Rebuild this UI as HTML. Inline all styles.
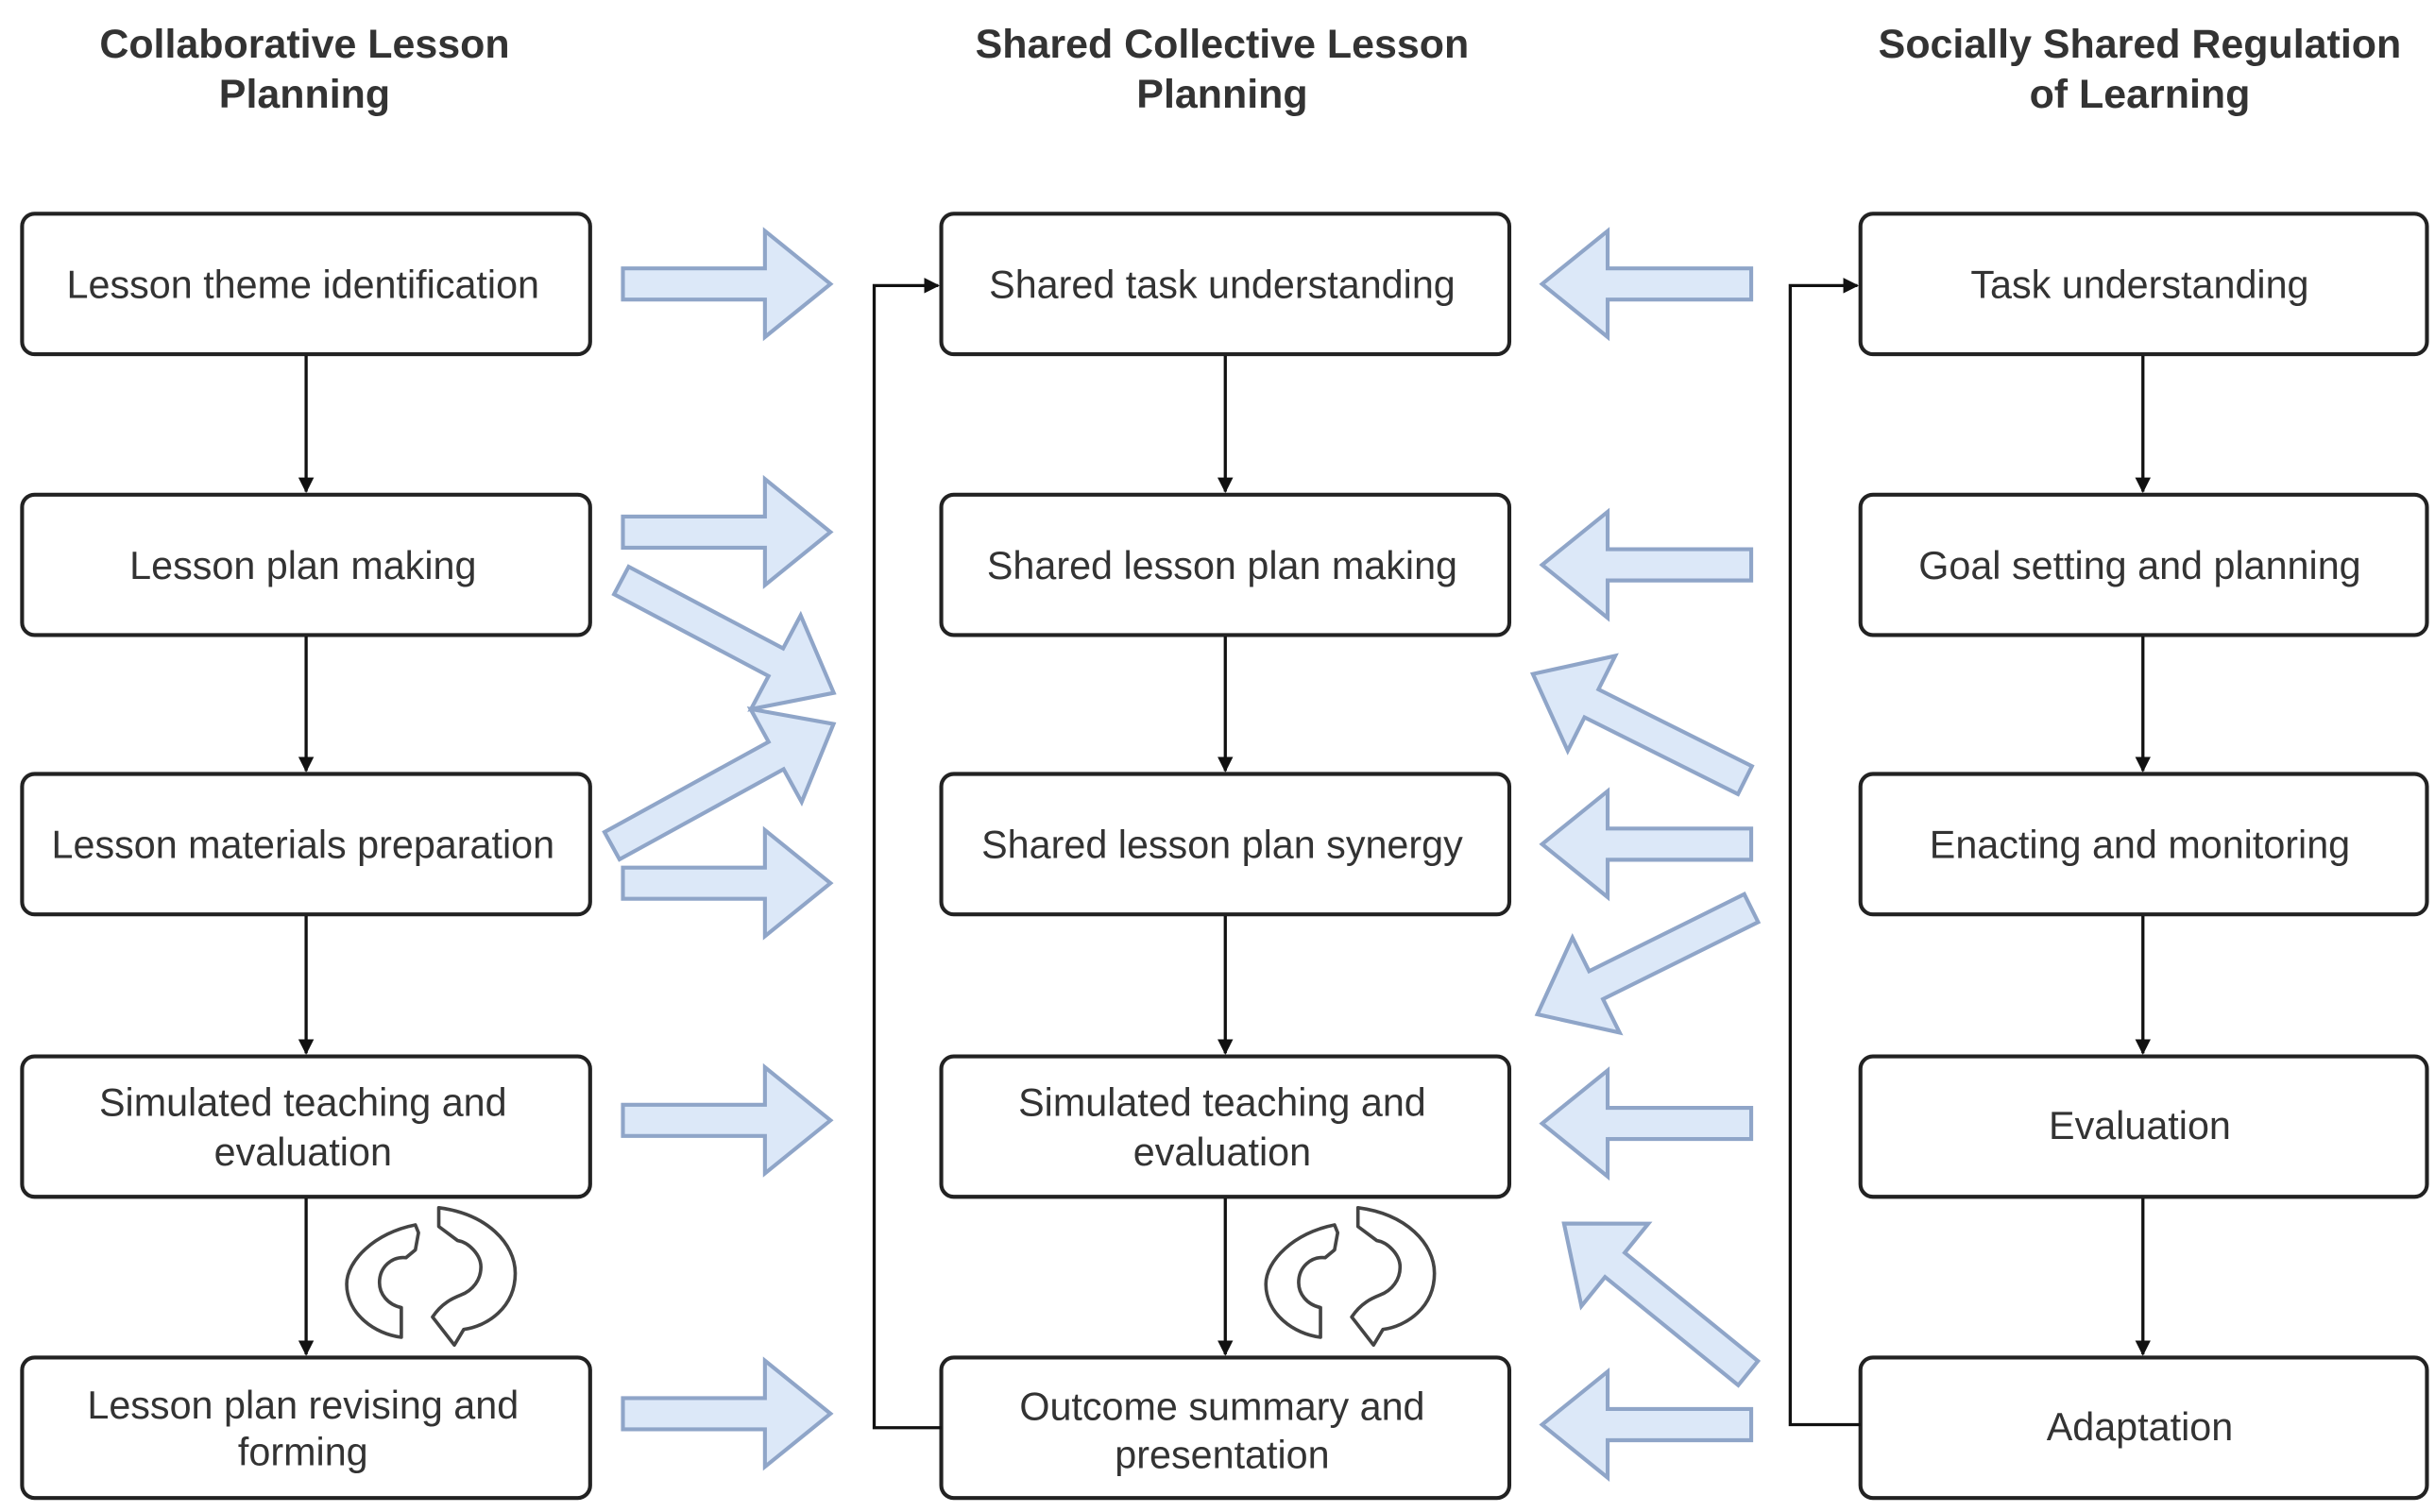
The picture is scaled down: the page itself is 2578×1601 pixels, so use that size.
<!DOCTYPE html>
<html><head><meta charset="utf-8"><style>
html,body{margin:0;padding:0;background:#fff}
svg{display:block}
text{font-family:"Liberation Sans",sans-serif;fill:#333}
</style></head><body>
<svg width="2578" height="1601" viewBox="0 0 1560 969" xmlns="http://www.w3.org/2000/svg">
<defs>
<marker id="ah" markerWidth="10" markerHeight="10" refX="9" refY="5" orient="auto" markerUnits="userSpaceOnUse"><path d="M0,0 L10,5 L0,10 Z" fill="#111"/></marker>
</defs>
<g font-size="26" text-anchor="middle" font-weight="bold">
<text x="195" y="37">Collaborative Lesson</text><text x="195" y="69">Planning</text>
<text x="783" y="37">Shared Collective Lesson</text><text x="783" y="69">Planning</text>
<text x="1371" y="37">Socially Shared Regulation</text><text x="1371" y="69">of Learning</text>
</g>
<g fill="#fff" stroke="#222" stroke-width="2.5">
<rect x="14" y="137" width="364" height="90" rx="8"/><rect x="14" y="317" width="364" height="90" rx="8"/><rect x="14" y="496" width="364" height="90" rx="8"/><rect x="14" y="677" width="364" height="90" rx="8"/><rect x="14" y="870" width="364" height="90" rx="8"/>
<rect x="603" y="137" width="364" height="90" rx="8"/><rect x="603" y="317" width="364" height="90" rx="8"/><rect x="603" y="496" width="364" height="90" rx="8"/><rect x="603" y="677" width="364" height="90" rx="8"/><rect x="603" y="870" width="364" height="90" rx="8"/>
<rect x="1192" y="137" width="363" height="90" rx="8"/><rect x="1192" y="317" width="363" height="90" rx="8"/><rect x="1192" y="496" width="363" height="90" rx="8"/><rect x="1192" y="677" width="363" height="90" rx="8"/><rect x="1192" y="870" width="363" height="90" rx="8"/>
</g>
<g font-size="25" text-anchor="middle">
<text x="194" y="191">Lesson theme identification</text>
<text x="194" y="371">Lesson plan making</text>
<text x="194" y="550">Lesson materials preparation</text>
<text x="194" y="715">Simulated teaching and</text><text x="194" y="747">evaluation</text>
<text x="194" y="909">Lesson plan revising and</text><text x="194" y="939">forming</text>
<text x="783" y="191">Shared task understanding</text>
<text x="783" y="371">Shared lesson plan making</text>
<text x="783" y="550">Shared lesson plan synergy</text>
<text x="783" y="715">Simulated teaching and</text><text x="783" y="747">evaluation</text>
<text x="783" y="910">Outcome summary and</text><text x="783" y="941">presentation</text>
<text x="1371" y="191">Task understanding</text>
<text x="1371" y="371">Goal setting and planning</text>
<text x="1371" y="550">Enacting and monitoring</text>
<text x="1371" y="730">Evaluation</text>
<text x="1371" y="923">Adaptation</text>
</g>
<g stroke="#111" stroke-width="2" fill="none" marker-end="url(#ah)">
<line x1="196" y1="228" x2="196" y2="315"/><line x1="196" y1="408" x2="196" y2="494"/><line x1="196" y1="587" x2="196" y2="675"/><line x1="196" y1="768" x2="196" y2="868"/>
<line x1="785" y1="228" x2="785" y2="315"/><line x1="785" y1="408" x2="785" y2="494"/><line x1="785" y1="587" x2="785" y2="675"/><line x1="785" y1="768" x2="785" y2="868"/>
<line x1="1373" y1="228" x2="1373" y2="315"/><line x1="1373" y1="408" x2="1373" y2="494"/><line x1="1373" y1="587" x2="1373" y2="675"/><line x1="1373" y1="768" x2="1373" y2="868"/>
<polyline points="603,915 560,915 560,183 601,183"/>
<polyline points="1192,913 1147,913 1147,183 1190,183"/>
</g>
<g fill="#dce8f8" stroke="#8fa5c8" stroke-width="2.5" stroke-linejoin="miter">
<g transform="translate(399,182)"><path d="M0,-10 L91,-10 L91,-34 L133,0 L91,34 L91,10 L0,10 Z"/></g>
<g transform="translate(399,341)"><path d="M0,-10 L91,-10 L91,-34 L133,0 L91,34 L91,10 L0,10 Z"/></g>
<g transform="translate(399,566)"><path d="M0,-10 L91,-10 L91,-34 L133,0 L91,34 L91,10 L0,10 Z"/></g>
<g transform="translate(399,718)"><path d="M0,-10 L91,-10 L91,-34 L133,0 L91,34 L91,10 L0,10 Z"/></g>
<g transform="translate(399,906)"><path d="M0,-10 L91,-10 L91,-34 L133,0 L91,34 L91,10 L0,10 Z"/></g>
<g transform="translate(398,372) rotate(27.9)"><path d="M0,-10 L112,-10 L112,-34 L154,0 L112,34 L112,10 L0,10 Z"/></g>
<g transform="translate(392,542) rotate(-28.8)"><path d="M0,-10 L120,-10 L120,-34 L162,0 L120,34 L120,10 L0,10 Z"/></g>
<g transform="translate(1122,182) rotate(180)"><path d="M0,-10 L92,-10 L92,-34 L134,0 L92,34 L92,10 L0,10 Z"/></g>
<g transform="translate(1122,362) rotate(180)"><path d="M0,-10 L92,-10 L92,-34 L134,0 L92,34 L92,10 L0,10 Z"/></g>
<g transform="translate(1122,541) rotate(180)"><path d="M0,-10 L92,-10 L92,-34 L134,0 L92,34 L92,10 L0,10 Z"/></g>
<g transform="translate(1122,720) rotate(180)"><path d="M0,-10 L92,-10 L92,-34 L134,0 L92,34 L92,10 L0,10 Z"/></g>
<g transform="translate(1122,913) rotate(180)"><path d="M0,-10 L92,-10 L92,-34 L134,0 L92,34 L92,10 L0,10 Z"/></g>
<g transform="translate(1118,500) rotate(-153.4)"><path d="M0,-10 L110,-10 L110,-34 L152,0 L110,34 L110,10 L0,10 Z"/></g>
<g transform="translate(1122,582) rotate(153.6)"><path d="M0,-10 L111,-10 L111,-34 L153,0 L111,34 L111,10 L0,10 Z"/></g>
<g transform="translate(1120,880) rotate(-140.9)"><path d="M0,-10 L110,-10 L110,-34 L152,0 L110,34 L110,10 L0,10 Z"/></g>
</g>
<g fill="#fff" stroke="#444" stroke-width="2.2" stroke-linejoin="round">
<path d="M266,785 C240,790 222,808 222,823 C222,842 240,855 257,857 L257,838 C248,836 243,829 243,822 C243,812 251,805 260,806 L266,801 L268,790 Z"/>
<path d="M281,774 C312,778 330,797 330,816 C330,838 312,850 297,852 L291,862 L277,844 C283,835 290,832 295,830 C303,827 308,820 308,812 C308,804 300,796 293,795 L281,786 Z"/>
<path d="M855,785 C829,790 811,808 811,823 C811,842 829,855 846,857 L846,838 C837,836 832,829 832,822 C832,812 840,805 849,806 L855,801 L857,790 Z"/>
<path d="M870,774 C901,778 919,797 919,816 C919,838 901,850 886,852 L880,862 L866,844 C872,835 879,832 884,830 C892,827 897,820 897,812 C897,804 889,796 882,795 L870,786 Z"/>
</g>
</svg>
</body></html>
